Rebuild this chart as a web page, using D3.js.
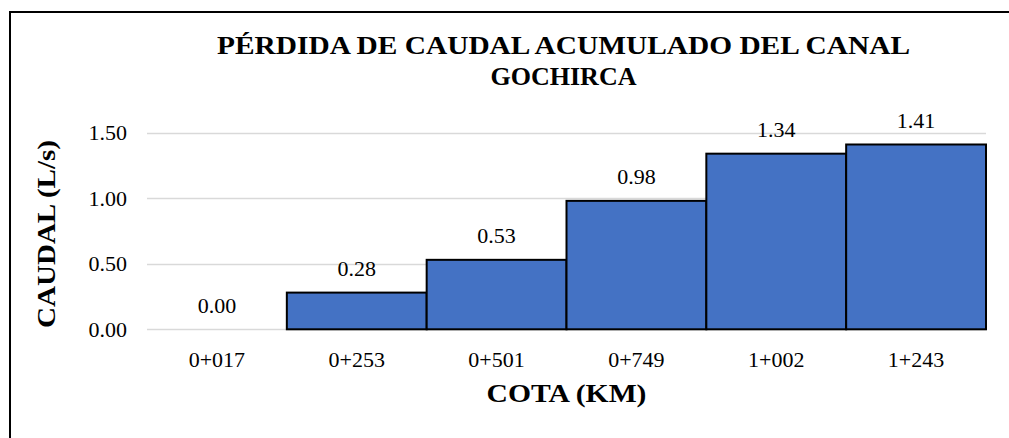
<!DOCTYPE html>
<html>
<head>
<meta charset="utf-8">
<script src="https://cdn.jsdelivr.net/npm/d3@7"></script>
<style>
  body { margin: 0; background: #fff; }
  svg { display: block; }
  text { font-family: "Liberation Serif", "Times New Roman", serif; fill: #000; }
</style>
</head>
<body>
<svg id="chart" width="1009" height="438"></svg>
<script>
// data
var stations = ["0+017", "0+253", "0+501", "0+749", "1+002", "1+243"];
var flowLoss = [0.00, 0.28, 0.53, 0.98, 1.34, 1.41];
var yTicks = [0, 0.5, 1.0, 1.5];
var titleLines = ["PÉRDIDA DE CAUDAL ACUMULADO DEL CANAL", "GOCHIRCA"];

var svg = d3.select("#chart");

// outer frame, right and bottom edges run past the picture
svg.append("rect")
    .attr("x", 10).attr("y", 12)
    .attr("width", 1010).attr("height", 440)
    .attr("fill", "#fff")
    .attr("stroke", "#000")
    .attr("stroke-width", 2);

var plot = { left: 147, right: 986, top: 132.7, bottom: 329.3 };
var midX = (plot.left + plot.right) / 2;

var x = d3.scaleBand()
    .domain(stations)
    .range([plot.left, plot.right])
    .padding(0);

var y = d3.scaleLinear()
    .domain([0, 1.5])
    .range([plot.bottom, plot.top]);

// gridlines
svg.append("g")
    .selectAll("line")
    .data(yTicks)
    .join("line")
    .attr("x1", plot.left).attr("x2", plot.right)
    .attr("y1", function(d) { return Math.round(y(d)) + 0.5; })
    .attr("y2", function(d) { return Math.round(y(d)) + 0.5; })
    .attr("stroke", "#d9d9d9")
    .attr("stroke-width", 1.3);

// y tick labels
svg.append("g")
    .selectAll("text")
    .data(yTicks)
    .join("text")
    .attr("x", 127)
    .attr("y", function(d) { return y(d); })
    .attr("dy", "0.35em")
    .attr("text-anchor", "end")
    .style("font-size", "22px")
    .text(function(d) { return d3.format(".2f")(d); });

// bars
svg.append("g")
    .selectAll("rect")
    .data(flowLoss)
    .join("rect")
    .attr("x", function(d, i) { return x(stations[i]); })
    .attr("width", x.bandwidth())
    .attr("y", function(d) { return y(d); })
    .attr("height", function(d) { return y(0) - y(d); })
    .attr("fill", function(d) { return d > 0 ? "#4472c4" : "none"; })
    .attr("stroke", function(d) { return d > 0 ? "#000" : "none"; })
    .attr("stroke-width", 2);

// value labels
svg.append("g")
    .selectAll("text")
    .data(flowLoss)
    .join("text")
    .attr("x", function(d, i) { return x(stations[i]) + x.bandwidth() / 2; })
    .attr("y", function(d) { return y(d) - 16.8; })
    .attr("text-anchor", "middle")
    .style("font-size", "22px")
    .text(function(d) { return d3.format(".2f")(d); });

// x tick labels
svg.append("g")
    .selectAll("text")
    .data(stations)
    .join("text")
    .attr("x", function(d) { return x(d) + x.bandwidth() / 2; })
    .attr("y", 367)
    .attr("text-anchor", "middle")
    .style("font-size", "22px")
    .text(function(d) { return d; });

// titles (reference bold face runs wider than Liberation Serif, so stretch it)
var titleWidths = [693, 146];
svg.append("g")
    .selectAll("text")
    .data(titleLines)
    .join("text")
    .attr("x", 563.5)
    .attr("y", function(d, i) { return 53.5 + i * 31.5; })
    .attr("text-anchor", "middle")
    .attr("textLength", function(d, i) { return titleWidths[i]; })
    .attr("lengthAdjust", "spacingAndGlyphs")
    .style("font-size", "26px")
    .style("font-weight", "bold")
    .text(function(d) { return d; });

svg.append("text")
    .attr("x", midX)
    .attr("y", 402)
    .attr("text-anchor", "middle")
    .attr("textLength", 160)
    .attr("lengthAdjust", "spacingAndGlyphs")
    .style("font-size", "26px")
    .style("font-weight", "bold")
    .text("COTA (KM)");

svg.append("text")
    .attr("transform", "translate(55,234) rotate(-90)")
    .attr("text-anchor", "middle")
    .attr("textLength", 188)
    .attr("lengthAdjust", "spacingAndGlyphs")
    .style("font-size", "26px")
    .style("font-weight", "bold")
    .text("CAUDAL (L/s)");
</script>
</body>
</html>
